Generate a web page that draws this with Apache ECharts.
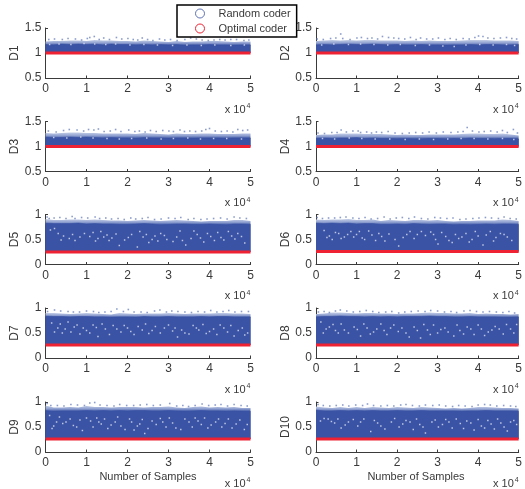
<!DOCTYPE html>
<html><head><meta charset="utf-8">
<style>html,body{margin:0;padding:0;background:#fff}#c{width:525px;height:489px}</style>
<script src="https://cdn.jsdelivr.net/npm/echarts@6/dist/echarts.min.js"></script>
</head><body><div id="c"></div>
<script>
const panelNames=['D1','D2','D3','D4','D5','D6','D7','D8','D9','D10'];
const sampleX=[0,.2,.4,.6,.8,1,1.2,1.4,1.6,1.8,2,2.2,2.4,2.6,2.8,3,3.2,3.4,3.6,3.8,4,4.2,4.4,4.6,4.8,5];
const optimal=[1,1,1,1,.25,.26,.26,.26,.26,.26];
const edgeD1=[1.17,1.16,1.18,1.17,1.18,1.17,1.18,1.16,1.18,1.17,1.17,1.16,1.17,1.16,1.17,1.16,1.17,1.15,1.16,1.16,1.17,1.16,1.16,1.15,1.16,1.16];
const fuzzD1=[1.23,1.24,1.24,1.25,1.25,1.24,1.26,1.25,1.25,1.24,1.24,1.23,1.25,1.24,1.23,1.22,1.24,1.22,1.23,1.23,1.24,1.24,1.23,1.22,1.23,1.23];
const edgeD2=[1.16,1.17,1.16,1.17,1.18,1.17,1.17,1.18,1.17,1.16,1.17,1.16,1.16,1.17,1.16,1.16,1.15,1.16,1.16,1.17,1.16,1.17,1.17,1.16,1.16,1.17];
const fuzzD2=[1.24,1.25,1.26,1.25,1.26,1.25,1.26,1.26,1.25,1.25,1.25,1.24,1.25,1.24,1.25,1.24,1.24,1.24,1.25,1.26,1.26,1.26,1.25,1.25,1.25,1.24];
const edgeD3=[1.19,1.18,1.18,1.19,1.18,1.19,1.18,1.17,1.18,1.17,1.17,1.16,1.18,1.17,1.17,1.16,1.17,1.17,1.16,1.17,1.17,1.17,1.16,1.17,1.17,1.17];
const fuzzD3=[1.27,1.26,1.27,1.28,1.28,1.27,1.27,1.26,1.26,1.26,1.26,1.25,1.27,1.26,1.25,1.24,1.26,1.25,1.25,1.26,1.26,1.25,1.25,1.25,1.26,1.26];
const edgeD4=[1.16,1.17,1.16,1.17,1.17,1.18,1.16,1.17,1.16,1.16,1.15,1.16,1.15,1.15,1.16,1.16,1.15,1.16,1.15,1.17,1.16,1.16,1.15,1.16,1.16,1.15];
const fuzzD4=[1.23,1.24,1.24,1.26,1.26,1.26,1.25,1.25,1.25,1.24,1.23,1.24,1.23,1.23,1.24,1.24,1.24,1.24,1.25,1.26,1.26,1.25,1.25,1.26,1.24,1.22];
const edgeD5=[.83,.82,.82,.82,.83,.81,.82,.81,.81,.8,.8,.81,.82,.81,.79,.8,.81,.81,.8,.8,.81,.8,.79,.81,.81,.8];
const fuzzD5=[.91,.89,.89,.9,.9,.89,.9,.89,.88,.88,.87,.88,.89,.88,.87,.88,.89,.88,.87,.86,.87,.87,.87,.89,.89,.87];
const edgeD6=[.83,.82,.83,.82,.83,.81,.82,.82,.8,.8,.81,.8,.82,.81,.8,.81,.81,.79,.8,.79,.8,.81,.8,.81,.81,.8];
const fuzzD6=[.9,.89,.9,.9,.91,.89,.89,.9,.87,.89,.88,.87,.89,.89,.88,.89,.87,.86,.87,.87,.88,.88,.88,.9,.89,.87];
const edgeD7=[.84,.83,.83,.82,.83,.83,.82,.82,.81,.82,.82,.81,.83,.82,.82,.83,.82,.82,.82,.83,.82,.83,.83,.82,.82,.82];
const fuzzD7=[.9,.9,.89,.88,.89,.9,.89,.88,.87,.9,.89,.88,.89,.89,.89,.9,.89,.88,.89,.89,.89,.9,.9,.89,.89,.88];
const edgeD8=[.82,.83,.83,.84,.83,.83,.82,.83,.82,.83,.82,.83,.83,.83,.84,.83,.83,.82,.82,.83,.82,.82,.82,.81,.81,.82];
const fuzzD8=[.88,.89,.91,.91,.9,.89,.9,.9,.89,.89,.88,.89,.89,.9,.91,.9,.9,.89,.89,.9,.88,.89,.88,.88,.87,.88];
const edgeD9=[.83,.81,.82,.82,.82,.83,.82,.83,.82,.83,.82,.83,.83,.82,.82,.83,.82,.81,.82,.83,.82,.82,.81,.82,.81,.81];
const fuzzD9=[.93,.89,.89,.9,.89,.92,.9,.9,.89,.9,.9,.9,.89,.9,.9,.91,.89,.88,.9,.91,.89,.9,.89,.9,.88,.88];
const edgeD10=[.84,.82,.82,.83,.82,.83,.82,.83,.82,.82,.83,.82,.82,.83,.82,.82,.82,.82,.81,.82,.82,.83,.82,.82,.82,.81];
const fuzzD10=[.91,.89,.88,.9,.88,.9,.88,.9,.89,.88,.9,.89,.88,.9,.89,.88,.87,.88,.87,.88,.9,.9,.89,.88,.88,.87];
const specksD1=[[.08,1.27],[.22,1.28],[.41,1.27],[.55,1.29],[.73,1.28],[.88,1.26],[1.02,1.29],[1.08,1.31],[1.19,1.33],[1.31,1.27],[1.42,1.3],[1.56,1.27],[1.73,1.31],[1.86,1.28],[2.01,1.29],[2.14,1.27],[2.25,1.26],[2.36,1.3],[2.49,1.27],[2.62,1.25],[2.78,1.28],[2.91,1.26],[3.05,1.27],[3.21,1.25],[3.4,1.27],[3.54,1.3],[3.68,1.28],[3.82,1.26],[3.97,1.25],[4.11,1.26],[4.25,1.27],[4.38,1.26],[4.52,1.27],[4.66,1.27],[4.84,1.25],[4.96,1.26]];
const specksD2=[[.03,1.28],[.18,1.27],[.36,1.29],[.49,1.3],[.61,1.38],[.66,1.29],[.84,1.27],[1.01,1.3],[1.12,1.31],[1.27,1.29],[1.38,1.3],[1.52,1.28],[1.64,1.33],[1.79,1.31],[1.92,1.3],[2.04,1.29],[2.19,1.28],[2.33,1.31],[2.47,1.27],[2.58,1.3],[2.73,1.28],[2.88,1.28],[3.02,1.3],[3.18,1.27],[3.31,1.29],[3.46,1.27],[3.63,1.29],[3.78,1.28],[3.92,1.31],[4.01,1.34],[4.12,1.33],[4.24,1.3],[4.39,1.29],[4.55,1.3],[4.7,1.31],[4.83,1.29],[4.95,1.28]];
const specksD3=[[.07,1.31],[.26,1.29],[.44,1.32],[.58,1.34],[.77,1.33],[.93,1.31],[1.05,1.34],[1.18,1.33],[1.29,1.35],[1.43,1.3],[1.58,1.31],[1.71,1.34],[1.84,1.3],[2.03,1.33],[2.18,1.3],[2.29,1.31],[2.43,1.29],[2.56,1.32],[2.7,1.3],[2.86,1.32],[3.01,1.31],[3.12,1.3],[3.28,1.33],[3.39,1.3],[3.52,1.31],[3.66,1.3],[3.81,1.31],[3.91,1.34],[4.0,1.36],[4.14,1.31],[4.29,1.3],[4.43,1.31],[4.57,1.29],[4.69,1.34],[4.81,1.32],[4.93,1.33]];
const specksD4=[[.05,1.27],[.21,1.26],[.39,1.28],[.52,1.28],[.62,1.33],[.75,1.29],[.91,1.31],[1.04,1.31],[1.1,1.28],[1.25,1.29],[1.37,1.27],[1.49,1.29],[1.62,1.28],[1.78,1.3],[1.95,1.27],[2.13,1.26],[2.3,1.27],[2.46,1.28],[2.63,1.27],[2.79,1.29],[2.97,1.27],[3.14,1.29],[3.33,1.28],[3.5,1.29],[3.63,1.3],[3.73,1.38],[3.86,1.31],[4.02,1.29],[4.15,1.3],[4.31,1.31],[4.47,1.29],[4.6,1.32],[4.72,1.28],[4.87,1.34],[4.97,1.27]];
const specksD5=[[.04,.95],[.09,.92],[.21,.93],[.35,.94],[.5,.92],[.65,.96],[.72,.92],[.88,.94],[1.03,.93],[1.21,.95],[1.32,.92],[1.47,.93],[1.61,.91],[1.77,.92],[1.92,.9],[2.08,.93],[2.2,.91],[2.36,.92],[2.5,.94],[2.66,.9],[2.82,.91],[3.0,.93],[3.16,.92],[3.3,.94],[3.48,.9],[3.62,.92],[3.79,.9],[3.94,.91],[4.1,.92],[4.27,.93],[4.43,.91],[4.6,.95],[4.74,.93],[4.9,.92]];
const specksD6=[[.03,.94],[.16,.92],[.31,.93],[.46,.93],[.6,.94],[.74,.95],[.91,.93],[1.06,.92],[1.21,.94],[1.36,.91],[1.52,.92],[1.68,.95],[1.83,.91],[1.98,.93],[2.13,.94],[2.29,.92],[2.43,.95],[2.6,.92],[2.76,.91],[2.93,.94],[3.07,.93],[3.23,.92],[3.38,.93],[3.55,.9],[3.7,.91],[3.87,.92],[4.02,.93],[4.18,.94],[4.33,.93],[4.5,.92],[4.64,.95],[4.79,.92],[4.94,.91]];
const specksD7=[[.05,.93],[.22,.96],[.37,.94],[.55,.93],[.68,.92],[.83,.92],[1.0,.94],[1.17,.93],[1.3,.91],[1.45,.92],[1.6,.93],[1.74,.98],[1.9,.93],[2.02,.97],[2.16,.92],[2.33,.92],[2.48,.91],[2.66,.94],[2.79,.96],[2.95,.92],[3.08,.94],[3.23,.93],[3.4,.92],[3.56,.91],[3.72,.93],[3.88,.92],[4.03,.95],[4.18,.92],[4.33,.93],[4.47,.95],[4.62,.92],[4.78,.93],[4.95,.93]];
const specksD8=[[.06,.92],[.2,.93],[.33,.91],[.48,.94],[.6,.96],[.76,.94],[.92,.92],[1.08,.93],[1.24,.95],[1.4,.93],[1.55,.91],[1.72,.92],[1.87,.93],[2.04,.9],[2.19,.92],[2.35,.93],[2.52,.94],[2.69,.93],[2.83,.95],[3.0,.94],[3.17,.92],[3.33,.93],[3.47,.91],[3.65,.94],[3.8,.95],[3.96,.93],[4.12,.92],[4.28,.93],[4.45,.92],[4.61,.91],[4.76,.93],[4.9,.9]];
const specksD9=[[.04,.97],[.13,.93],[.29,.93],[.45,.92],[.62,.95],[.78,.94],[.95,.93],[1.08,.98],[1.2,.99],[1.33,.94],[1.5,.93],[1.67,.92],[1.81,.95],[1.98,.93],[2.15,.93],[2.31,.94],[2.47,.95],[2.63,.93],[2.8,.94],[3.03,.97],[3.2,.92],[3.35,.93],[3.49,.91],[3.65,.93],[3.82,.96],[3.98,.93],[4.14,.94],[4.28,.95],[4.44,.92],[4.6,.95],[4.77,.93],[4.92,.92]];
const specksD10=[[.05,.95],[.18,.93],[.34,.92],[.5,.93],[.66,.94],[.81,.92],[.98,.94],[1.15,.93],[1.27,.96],[1.42,.93],[1.6,.92],[1.76,.93],[1.92,.92],[2.09,.94],[2.22,.95],[2.38,.93],[2.55,.92],[2.7,.94],[2.88,.93],[3.04,.94],[3.2,.92],[3.37,.91],[3.52,.93],[3.68,.92],[3.85,.91],[4.0,.94],[4.16,.95],[4.3,.94],[4.46,.92],[4.63,.93],[4.8,.92],[4.93,.91]];
const gapsD1=[[.1,1.17],[.33,1.18],[.62,1.17],[.94,1.19],[1.2,1.18],[1.47,1.17],[1.71,1.18],[2.06,1.16],[2.4,1.17],[2.73,1.16],[3.1,1.15],[3.45,1.16],[3.8,1.15],[4.13,1.16],[4.52,1.15],[4.85,1.16]];
const gapsD2=[[.14,1.16],[.44,1.18],[.8,1.17],[1.1,1.18],[1.43,1.17],[1.77,1.16],[2.08,1.17],[2.45,1.15],[2.8,1.16],[3.13,1.14],[3.41,1.13],[3.7,1.16],[4.04,1.17],[4.37,1.16],[4.7,1.17],[4.9,1.15]];
const gapsD3=[[.2,1.18],[.52,1.17],[.86,1.19],[1.16,1.17],[1.5,1.16],[1.8,1.15],[2.1,1.16],[2.47,1.17],[2.82,1.15],[3.12,1.16],[3.47,1.17],[3.78,1.15],[4.1,1.16],[4.42,1.16],[4.78,1.15]];
const gapsD4=[[.16,1.16],[.46,1.15],[.82,1.17],[1.13,1.16],[1.46,1.15],[1.82,1.15],[2.2,1.14],[2.55,1.15],[2.9,1.14],[3.25,1.15],[3.58,1.16],[3.9,1.16],[4.24,1.15],[4.6,1.16],[4.88,1.14]];
const gapsD5=[[.12,.69],[.31,.62],[.44,.57],[.58,.52],[.72,.48],[.95,.62],[1.08,.56],[1.22,.47],[1.35,.66],[1.5,.59],[1.62,.53],[1.8,.38],[1.93,.49],[2.1,.6],[2.24,.35],[2.38,.55],[2.52,.44],[2.67,.57],[2.81,.62],[2.96,.5],[3.11,.46],[3.28,.67],[3.42,.39],[3.55,.52],[3.7,.6],[3.86,.45],[4.03,.56],[4.2,.64],[4.35,.49],[4.54,.57],[4.69,.62],[4.86,.43],[.22,.72],[.38,.49],[.66,.6],[.84,.55],[1.16,.64],[1.28,.52],[1.42,.55],[1.55,.48],[1.72,.61],[2.02,.54],[2.3,.66],[2.46,.6],[2.6,.5],[2.74,.47],[2.9,.58],[3.2,.55],[3.34,.48],[3.62,.67],[3.78,.53],[3.95,.62],[4.12,.48],[4.28,.54],[4.46,.66],[4.62,.51],[4.78,.56]];
const gapsD6=[[.2,.68],[.33,.57],[.48,.64],[.62,.52],[.78,.6],[.93,.55],[1.07,.66],[1.2,.5],[1.38,.59],[1.55,.62],[1.7,.47],[2.04,.37],[2.15,.54],[2.32,.66],[2.5,.6],[2.7,.58],[2.83,.65],[2.95,.5],[3.01,.41],[3.2,.56],[3.36,.44],[3.52,.52],[3.7,.62],[3.85,.5],[4.0,.57],[4.12,.39],[4.3,.66],[4.44,.54],[4.64,.6],[4.83,.48],[.27,.54],[.4,.5],[.56,.62],[.7,.55],[.86,.66],[1.0,.6],[1.14,.53],[1.3,.67],[1.47,.48],[1.62,.56],[1.8,.61],[1.95,.5],[2.24,.6],[2.42,.52],[2.6,.66],[2.9,.6],[3.1,.64],[3.28,.48],[3.44,.6],[3.6,.55],[3.78,.45],[3.93,.66],[4.2,.59],[4.38,.47],[4.55,.62],[4.72,.55]];
const gapsD7=[[.15,.7],[.3,.6],[.41,.5],[.55,.72],[.7,.62],[.84,.48],[1.0,.55],[1.16,.66],[1.28,.43],[1.46,.58],[1.65,.65],[1.84,.52],[2.0,.6],[2.16,.47],[2.36,.56],[2.52,.49],[2.68,.63],[2.9,.6],[3.1,.54],[3.22,.42],[3.4,.5],[3.6,.65],[3.74,.56],[3.92,.49],[4.1,.58],[4.26,.66],[4.44,.52],[4.6,.44],[4.8,.6],[4.93,.5],[.22,.52],[.36,.68],[.48,.58],[.62,.52],[.77,.66],[.92,.6],[1.08,.5],[1.24,.61],[1.38,.68],[1.56,.47],[1.74,.58],[1.92,.65],[2.08,.53],[2.26,.63],[2.44,.68],[2.6,.55],[2.8,.5],[3.0,.66],[3.16,.6],[3.32,.56],[3.5,.48],[3.68,.6],[3.84,.67],[4.0,.53],[4.18,.47],[4.35,.6],[4.52,.65],[4.7,.55],[4.86,.46]];
const gapsD8=[[.12,.72],[.25,.58],[.42,.67],[.55,.5],[.7,.56],[.94,.62],[1.1,.44],[1.26,.6],[1.42,.52],[1.6,.68],[1.75,.47],[1.84,.6],[2.03,.53],[2.3,.42],[2.42,.62],[2.58,.4],[2.75,.56],[2.9,.66],[3.0,.5],[3.18,.6],[3.4,.44],[3.55,.55],[3.73,.62],[3.9,.47],[4.08,.58],[4.25,.52],[4.42,.63],[4.62,.48],[4.8,.58],[4.95,.67],[.18,.5],[.33,.62],[.48,.55],[.62,.68],[.8,.5],[1.02,.57],[1.18,.68],[1.34,.48],[1.5,.58],[1.68,.55],[1.92,.66],[2.12,.6],[2.22,.5],[2.5,.55],[2.66,.67],[2.82,.47],[3.08,.57],[3.26,.52],[3.48,.66],[3.64,.48],[3.82,.58],[4.0,.66],[4.16,.45],[4.34,.56],[4.52,.58],[4.7,.67],[4.88,.5]];
const gapsD9=[[.1,.73],[.16,.47],[.27,.6],[.42,.57],[.6,.66],[.76,.5],[.9,.43],[1.1,.62],[1.25,.68],[1.36,.56],[1.52,.47],[1.7,.6],[1.84,.52],[2.05,.66],[2.16,.44],[2.3,.56],[2.42,.37],[2.6,.62],[2.8,.67],[2.94,.5],[3.1,.58],[3.3,.45],[3.5,.6],[3.65,.68],[3.8,.55],[3.96,.48],[4.15,.6],[4.3,.5],[4.46,.66],[4.65,.56],[4.85,.45],[.2,.52],[.34,.7],[.5,.6],[.68,.53],[.84,.64],[1.0,.68],[1.16,.5],[1.3,.6],[1.44,.66],[1.6,.54],[1.76,.7],[1.94,.45],[2.1,.6],[2.24,.52],[2.36,.65],[2.5,.47],[2.7,.55],[2.86,.6],[3.02,.68],[3.18,.48],[3.4,.66],[3.58,.5],[3.72,.62],[3.88,.68],[4.04,.54],[4.22,.66],[4.38,.57],[4.55,.48],[4.74,.64],[4.92,.55]];
const gapsD10=[[.11,.62],[.3,.66],[.46,.58],[.62,.48],[.8,.6],[1.03,.52],[1.18,.66],[1.35,.41],[1.52,.58],[1.7,.46],[1.86,.6],[2.05,.5],[2.22,.63],[2.4,.45],[2.56,.55],[2.7,.38],[2.86,.6],[3.02,.5],[3.2,.65],[3.36,.48],[3.56,.57],[3.72,.62],[3.9,.44],[4.08,.52],[4.24,.63],[4.4,.46],[4.56,.58],[4.72,.42],[4.88,.63],[4.95,.55],[.2,.67],[.38,.61],[.54,.66],[.72,.54],[.92,.65],[1.1,.6],[1.44,.63],[1.6,.52],[1.94,.67],[2.14,.56],[2.32,.6],[2.48,.66],[2.64,.5],[2.94,.64],[3.12,.55],[3.28,.6],[3.46,.66],[3.64,.47],[3.82,.58],[4.0,.65],[4.16,.48],[4.32,.56],[4.48,.66],[4.64,.5],[4.8,.6]];
const edges=[edgeD1,edgeD2,edgeD3,edgeD4,edgeD5,edgeD6,edgeD7,edgeD8,edgeD9,edgeD10];
const fuzzes=[fuzzD1,fuzzD2,fuzzD3,fuzzD4,fuzzD5,fuzzD6,fuzzD7,fuzzD8,fuzzD9,fuzzD10];
const specks=[specksD1,specksD2,specksD3,specksD4,specksD5,specksD6,specksD7,specksD8,specksD9,specksD10];
const gaps=[gapsD1,gapsD2,gapsD3,gapsD4,gapsD5,gapsD6,gapsD7,gapsD8,gapsD9,gapsD10];

const BLUE='#3a53a4',RED='#ee2233',INK='#3a3a3a',FONT='"Liberation Sans",Arial,sans-serif';
const tops=[28,121.5,214.5,308,402];
const lefts=[45.5,316];
const grid=[],xAxis=[],yAxis=[],series=[];
panelNames.forEach((name,i)=>{
  const row=Math.floor(i/2),col=i%2,big=i<4;
  grid.push({left:lefts[col],top:tops[row],width:205,height:50});
  xAxis.push({gridIndex:i,type:'value',min:0,max:5,interval:1,
    axisLine:{lineStyle:{color:INK,width:1}},axisTick:{inside:true,length:2.5,lineStyle:{color:INK}},
    splitLine:{show:false},axisLabel:{color:INK,fontFamily:FONT,fontSize:12,margin:5},
    name:'x 10{s|4}',nameLocation:'end',nameGap:0,
    nameTextStyle:{color:INK,fontFamily:FONT,fontSize:11,align:'right',verticalAlign:'top',padding:[25,0,0,0],
      rich:{s:{fontFamily:FONT,fontSize:7,color:INK,verticalAlign:'top',padding:[0,0,6,1]}}}});
  yAxis.push({gridIndex:i,type:'value',min:big?.5:0,max:big?1.5:1,interval:.5,
    axisLine:{show:true,lineStyle:{color:INK,width:1}},axisTick:{show:true,inside:true,length:2.5,lineStyle:{color:INK}},
    splitLine:{show:false},axisLabel:{color:INK,fontFamily:FONT,fontSize:12,margin:4,formatter:v=>String(v)},
    name:name,nameLocation:'middle',nameGap:23,nameRotate:90,
    nameTextStyle:{color:INK,fontFamily:FONT,fontSize:12}});
  const base=optimal[i];
  const xy=a=>a.map((v,k)=>[sampleX[k],v]);
  const hi=Math.max(...fuzzes[i]),lo=Math.min(...edges[i]);
  const f=(hi-lo)/(hi-base);
  series.push({type:'line',name:'fuzz',xAxisIndex:i,yAxisIndex:i,data:xy(fuzzes[i]),symbol:'none',silent:true,animation:false,
    lineStyle:{width:0},z:2,
    areaStyle:{opacity:1,origin:base,color:{type:'linear',x:0,y:0,x2:0,y2:1,colorStops:[
      {offset:0,color:'#c3cde6'},{offset:f*.55,color:'#8fa0d0'},{offset:f,color:BLUE},{offset:1,color:BLUE}]}}});
  series.push({type:'line',name:'band',xAxisIndex:i,yAxisIndex:i,data:xy(edges[i]),symbol:'none',silent:true,animation:false,
    lineStyle:{width:.5,color:BLUE},areaStyle:{color:BLUE,opacity:1,origin:base},z:3});
  series.push({type:'scatter',name:'Random coder',xAxisIndex:i,yAxisIndex:i,data:specks[i],symbol:'rect',symbolSize:1.6,animation:false,
    itemStyle:{color:'#6f84bf'},z:4});
  series.push({type:'scatter',name:'gaps',xAxisIndex:i,yAxisIndex:i,data:gaps[i],symbol:'rect',symbolSize:1.5,animation:false,
    itemStyle:{color:'#dfe4f2'},z:4});
  series.push({type:'line',name:'Optimal coder',xAxisIndex:i,yAxisIndex:i,data:[[0,base],[5,base]],symbol:'none',animation:false,
    lineStyle:{color:RED,width:3},z:5});
});
const chart=echarts.init(document.getElementById('c'),null,{renderer:'canvas'});
chart.setOption({
  animation:false,backgroundColor:'#fff',grid,xAxis,yAxis,series,
  title:[
    {text:'Number of Samples',left:148,top:471,textAlign:'center',textStyle:{fontFamily:FONT,fontSize:11,fontWeight:'normal',color:INK},padding:0},
    {text:'Number of Samples',left:416,top:471,textAlign:'center',textStyle:{fontFamily:FONT,fontSize:11,fontWeight:'normal',color:INK},padding:0}
  ],
  legend:{left:177,top:5,orient:'vertical',backgroundColor:'#fff',borderColor:'#000',borderWidth:1.5,borderRadius:0,
    padding:[3,6,3,18],itemGap:4,itemWidth:9,itemHeight:13,
    textStyle:{fontFamily:FONT,fontSize:11,color:INK,padding:[0,0,0,9]},z:20,
    data:[
      {name:'Random coder',icon:'circle',itemStyle:{color:'#fff',borderColor:BLUE,borderWidth:1}},
      {name:'Optimal coder',icon:'circle',itemStyle:{color:'#fff',borderColor:RED,borderWidth:1}}
    ]}
});
</script></body></html>
